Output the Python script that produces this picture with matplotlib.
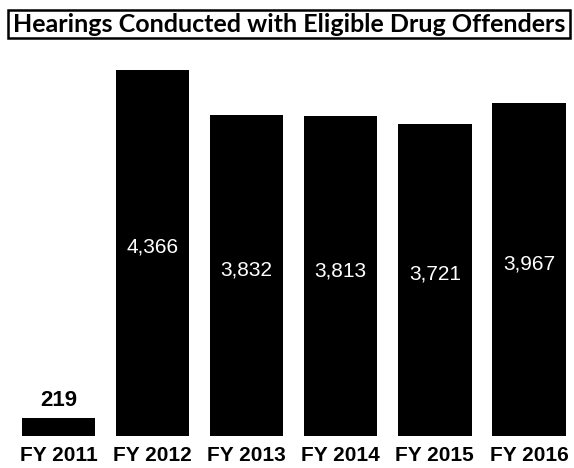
import matplotlib.pyplot as plt
from matplotlib.patches import Rectangle

# data
years = ['FY 2011', 'FY 2012', 'FY 2013', 'FY 2014', 'FY 2015', 'FY 2016']
hearings = [219, 4366, 3832, 3813, 3721, 3967]
labels = ['219', '4,366', '3,832', '3,813', '3,721', '3,967']

fig = plt.figure(figsize=(5.74, 4.68), dpi=100)
ax = fig.add_axes([0.0117, 0.0684, 0.9836, 0.782])

x = range(len(years))
ax.bar(x, hearings, width=0.78, color='black')
ax.set_xlim(-0.55, 5.45)
ax.set_ylim(0, 4366)

for i, (v, lab) in enumerate(zip(hearings, labels)):
    if v < 1000:
        ax.annotate(lab, (i, v), xytext=(0, 5), textcoords='offset points',
                    ha='center', va='bottom', fontsize=16, fontweight='bold',
                    family='Liberation Sans', color='black')
    else:
        ax.annotate(lab, (i, v / 2), xytext=(0, 4), textcoords='offset points',
                    ha='center', va='center', fontsize=15,
                    family='Liberation Sans', color='white')

ax.set_xticks(list(x))
ax.set_xticklabels(years, fontsize=15, fontweight='bold', family='Liberation Sans')
ax.tick_params(axis='x', length=0, pad=7)
ax.set_yticks([])
for s in ax.spines.values():
    s.set_visible(False)

# boxed title
fig.patches.append(Rectangle((8 / 574, 1 - 38 / 468), 562 / 574, 28 / 468,
                             transform=fig.transFigure, fill=False,
                             edgecolor='black', linewidth=1.8))
fig.text(289 / 574, 1 - 25 / 468, 'Hearings Conducted with Eligible Drug Offenders',
         ha='center', va='center', fontsize=18, fontweight='bold', family='Lato')

fig.savefig('out.png', dpi=100)
